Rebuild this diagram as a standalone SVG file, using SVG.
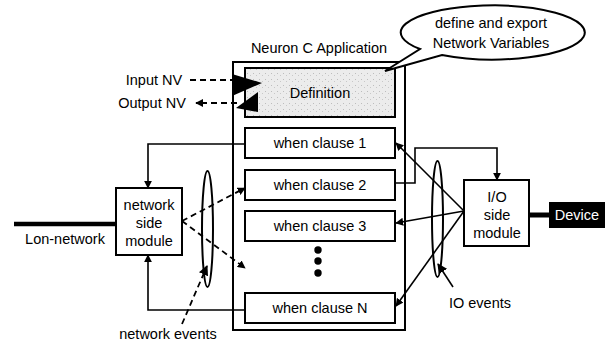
<svg xmlns="http://www.w3.org/2000/svg" width="609" height="347" viewBox="0 0 609 347">
<style>
text{font-family:"Liberation Sans",Arial,sans-serif;font-size:14.5px;fill:#000;text-anchor:middle;dominant-baseline:central}
.box{fill:#fff;stroke:#000;stroke-width:2}
.ln{fill:none;stroke:#000;stroke-width:1.6}
.dash{fill:none;stroke:#000;stroke-width:1.8;stroke-dasharray:6 4}
</style>
<defs>
<marker id="ah" viewBox="0 0 10 10" refX="9" refY="5" markerWidth="8" markerHeight="8" markerUnits="userSpaceOnUse" orient="auto">
<path d="M0,0 L10,5 L0,10 z" fill="#000"/>
</marker>
<marker id="ahb" viewBox="0 0 10 10" refX="9" refY="5" markerWidth="10" markerHeight="10" markerUnits="userSpaceOnUse" orient="auto">
<path d="M0,0 L10,5 L0,10 z" fill="#000"/>
</marker>
<pattern id="stip" width="6" height="6" patternUnits="userSpaceOnUse">
<rect width="6" height="6" fill="#ececec"/>
<rect x="1" y="1" width="1" height="1" fill="#bdbdbd"/>
<rect x="4" y="3" width="1" height="1" fill="#c8c8c8"/>
</pattern>
</defs>

<g id="app">
<text x="319" y="48">Neuron C Application</text>
<rect class="box" x="233" y="62" width="172" height="268"/>
</g>

<g id="definition">
<rect x="245" y="68" width="150" height="49" fill="url(#stip)" stroke="#000" stroke-width="2"/>
<text x="320" y="93">Definition</text>
</g>

<g id="clause1"><rect class="box" x="245" y="128" width="150" height="30"/><text x="320" y="143">when clause 1</text></g>
<g id="clause2"><rect class="box" x="245" y="170" width="150" height="30"/><text x="320" y="185">when clause 2</text></g>
<g id="clause3"><rect class="box" x="245" y="211" width="150" height="30"/><text x="320" y="226">when clause 3</text></g>
<g id="dots"><circle cx="318" cy="250" r="3.7"/><circle cx="318" cy="261" r="3.7"/><circle cx="318" cy="273" r="3.7"/></g>
<g id="clauseN"><rect class="box" x="245" y="293" width="150" height="30"/><text x="320" y="308">when clause N</text></g>

<g id="netmodule">
<rect class="box" x="116" y="188" width="66" height="67"/>
<text x="149" y="205">network</text>
<text x="149" y="223">side</text>
<text x="149" y="241">module</text>
</g>

<g id="lon">
<line x1="14" y1="224" x2="116" y2="224" stroke="#000" stroke-width="4.5"/>
<text x="65" y="239">Lon-network</text>
</g>

<g id="iomodule">
<rect class="box" x="464" y="180" width="65" height="66"/>
<text x="497" y="197">I/O</text>
<text x="497" y="215">side</text>
<text x="497" y="233">module</text>
</g>

<g id="device">
<line x1="529" y1="215" x2="549" y2="215" stroke="#000" stroke-width="5"/>
<rect x="549" y="202" width="56" height="26" fill="#000"/>
<text x="577" y="215" style="fill:#fff">Device</text>
</g>

<g id="callout">
<path d="M420,49 A92,27 0 1 1 442,55 L385,71 Z" fill="#fff" stroke="#000" stroke-width="2" stroke-linejoin="miter"/>
<text x="491" y="23">define and export</text>
<text x="491" y="43">Network Variables</text>
</g>

<g id="nvlabels">
<text x="154" y="80">Input NV</text>
<text x="152" y="103">Output NV</text>
</g>

<g id="netevents">
<ellipse cx="207.5" cy="229" rx="5.5" ry="58" fill="none" stroke="#000" stroke-width="2"/>
<text x="168" y="334">network events</text>
</g>

<g id="ioevents">
<ellipse cx="437.5" cy="219" rx="5.5" ry="58" fill="none" stroke="#000" stroke-width="2"/>
<text x="480" y="303">IO events</text>
</g>

<g id="connectors">
<line class="dash" x1="190" y1="80" x2="234" y2="80"/>
<path d="M232,74 L262,83 L232,96 Z" fill="#000"/>
<line class="dash" x1="237" y1="103" x2="196" y2="103" marker-end="url(#ah)"/>
<path d="M258,92 L258,112 L236,108 Z" fill="#000"/>
<polyline class="ln" points="245,144 148,144 148,188" marker-end="url(#ah)"/>
<polyline class="ln" points="245,310 148,310 148,255" marker-end="url(#ah)"/>
<line class="dash" x1="182" y1="221" x2="245" y2="188" marker-end="url(#ah)"/>
<line class="dash" x1="182" y1="221" x2="245" y2="268" marker-end="url(#ah)"/>
<line class="dash" x1="182" y1="324" x2="207" y2="266" marker-end="url(#ahb)"/>
<polyline class="ln" points="395,183 415,183 415,148 497,148 497,180" marker-end="url(#ah)"/>
<line class="ln" x1="464" y1="211" x2="396" y2="143" marker-end="url(#ah)"/>
<line class="ln" x1="464" y1="211" x2="396" y2="223" marker-end="url(#ah)"/>
<line class="ln" x1="464" y1="211" x2="396" y2="306" marker-end="url(#ah)"/>
<line class="ln" x1="453" y1="287" x2="438" y2="264" marker-end="url(#ahb)"/>
</g>
</svg>
